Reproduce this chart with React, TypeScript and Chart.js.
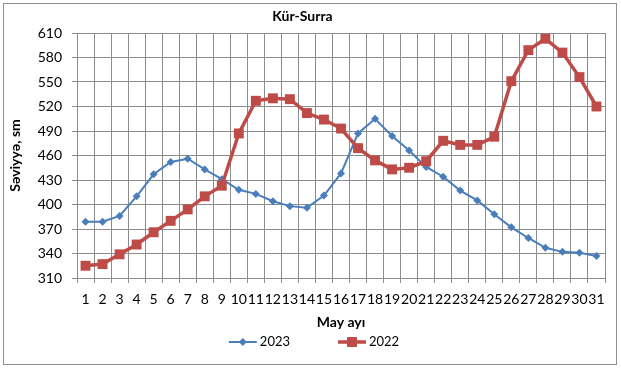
import React, { useEffect, useRef } from "react";
import { Chart, registerables } from "chart.js";

Chart.register(...registerables);

const days: string[] = Array.from({ length: 31 }, (_, i) => String(i + 1));
const series2023: number[] = [379, 379, 386, 410, 437, 452, 456, 443, 431, 418, 413, 404, 398, 396, 411, 438, 487, 505, 484, 466, 446, 434, 417, 405, 388, 372, 359, 347, 342, 341, 337];
const series2022: number[] = [325, 327, 339, 351, 366, 380, 394, 410, 423, 487, 527, 530, 529, 512, 504, 493, 469, 454, 443, 445, 453, 478, 473, 473, 483, 551, 589, 603, 586, 556, 520];
const yMin = 310;
const yMax = 610;
const yStep = 30;

const BLUE = "#4A7EBB";
const RED = "#BE4B48";
const GRID = "#8c8c8c";
const FONT = "Lato, 'Open Sans', sans-serif";

const legendPlugin = {
  id: "excelLegend",
  afterDraw(chart: any) {
    const ctx = chart.ctx as CanvasRenderingContext2D;
    ctx.save();
    // outer border
    ctx.strokeStyle = "#8f8f8f";
    ctx.lineWidth = 1;
    ctx.strokeRect(3.5, 3.5, 613, 361);

    ctx.font = `13px ${FONT}`;
    ctx.textBaseline = "middle";
    ctx.textAlign = "left";
    const ds = chart.data.datasets;
    const lineLen = 28;
    const gap = 3;
    const itemGap = 48;
    const widths = ds.map((d: any) => lineLen + gap + ctx.measureText(d.label).width);
    const total = widths.reduce((a: number, b: number) => a + b, 0) + itemGap * (ds.length - 1);
    let x = 314 - total / 2;
    const y = 342;
    ds.forEach((d: any, i: number) => {
      ctx.strokeStyle = d.borderColor;
      ctx.lineWidth = d.borderWidth;
      ctx.beginPath();
      ctx.moveTo(x, y);
      ctx.lineTo(x + lineLen, y);
      ctx.stroke();
      ctx.fillStyle = d.pointBackgroundColor;
      const cx = x + lineLen / 2;
      if (d.pointStyle === "rect") {
        const s = d.pointRadius * Math.SQRT1_2;
        ctx.fillRect(cx - s, y - s, 2 * s, 2 * s);
      } else {
        const r = d.pointRadius;
        ctx.beginPath();
        ctx.moveTo(cx - r, y);
        ctx.lineTo(cx, y - r);
        ctx.lineTo(cx + r, y);
        ctx.lineTo(cx, y + r);
        ctx.closePath();
        ctx.fill();
      }
      ctx.fillStyle = "#000";
      ctx.fillText(d.label, x + lineLen + gap, y);
      x += widths[i] + itemGap;
    });
    ctx.restore();
  },
};

export default function App() {
  const ref = useRef<HTMLCanvasElement | null>(null);
  useEffect(() => {
    document.body.style.margin = "0";
    const canvas = ref.current;
    if (!canvas) return;
    const chart = new Chart(canvas, {
      type: "line",
      data: {
        labels: days,
        datasets: [
          {
            label: "2023",
            data: series2023,
            borderColor: BLUE,
            backgroundColor: BLUE,
            pointBackgroundColor: BLUE,
            pointBorderColor: BLUE,
            borderWidth: 2,
            pointStyle: "rectRot",
            pointRadius: 4,
            pointBorderWidth: 0,
            tension: 0,
            order: 1,
          },
          {
            label: "2022",
            data: series2022,
            borderColor: RED,
            backgroundColor: RED,
            pointBackgroundColor: RED,
            pointBorderColor: RED,
            borderWidth: 3.5,
            pointStyle: "rect",
            pointRadius: 7,
            pointBorderWidth: 0,
            tension: 0,
            order: 0,
          },
        ] as any,
      },
      options: {
        responsive: false,
        animation: false,
        layout: { padding: { left: 0, right: 16, top: 0, bottom: 30 } },
        plugins: {
          legend: { display: false },
          tooltip: { enabled: false },
          title: {
            display: true,
            text: "Kür-Surra",
            color: "#000",
            font: { family: FONT, size: 14, weight: "bold", lineHeight: 1.2 },
            padding: { top: 7.6, bottom: 8.6 },
          },
        },
        scales: {
          x: {
            offset: true,
            grid: { offset: true, color: GRID, tickLength: 5, drawTicks: true, tickColor: GRID },
            border: { color: GRID },
            ticks: {
              autoSkip: false,
              maxRotation: 0,
              minRotation: 0,
              color: "#000",
              padding: 8,
              font: { family: FONT, size: 14 },
            },
            title: {
              display: true,
              text: "May ayı",
              color: "#000",
              font: { family: FONT, size: 14, weight: "bold", lineHeight: 1.2 },
              padding: { top: 0, bottom: 7.6 },
            },
            afterFit(scale: any) {
              scale.height = 60;
            },
          },
          y: {
            min: yMin,
            max: yMax,
            grid: { color: GRID, tickLength: 5, tickColor: GRID },
            border: { color: GRID },
            ticks: {
              stepSize: yStep,
              color: "#000",
              padding: 10,
              font: { family: FONT, size: 14 },
            },
            title: {
              display: true,
              text: "Səviyyə, sm",
              color: "#000",
              font: { family: FONT, size: 14, weight: "bold", lineHeight: 1.2 },
              padding: { top: 6.6, bottom: 0 },
            },
            afterFit(scale: any) {
              scale.width = 77;
            },
          },
        },
      },
      plugins: [legendPlugin],
    });
    return () => chart.destroy();
  }, []);
  return (
    <div style={{ width: 621, height: 368, background: "#fff" }}>
      <canvas ref={ref} width={621} height={368} style={{ display: "block" }} />
    </div>
  );
}
